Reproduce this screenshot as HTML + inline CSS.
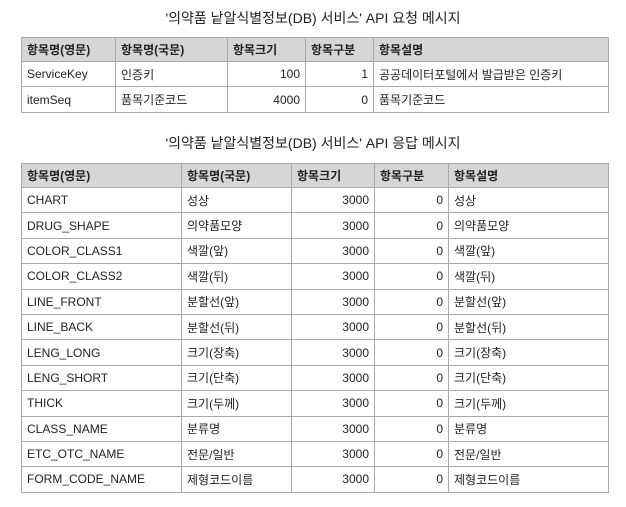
<!DOCTYPE html>
<html><head><meta charset="utf-8"><style>
body{margin:0;width:626px;height:507px;background:#fff;font-family:"Liberation Sans","Noto Sans CJK KR",sans-serif;color:#222;position:relative;overflow:hidden}
.title{position:absolute;left:0;width:626px;text-align:center;font-size:14px;line-height:18px}
table{position:absolute;left:21px;border-collapse:collapse;table-layout:fixed;font-size:12px}
td,th{border:1px solid #a9a9a9;padding:0 5px;white-space:nowrap;overflow:hidden}
th{background:#d6d6d6;text-align:left;font-weight:bold;height:23px}
td{height:24.4px}
td.n{text-align:right}
</style></head><body>
<div class="title" style="top:9px">'의약품 낱알식별정보(DB) 서비스' API 요청 메시지</div>
<table style="top:37px;width:587px">
<colgroup><col style="width:94px"><col style="width:112px"><col style="width:78px"><col style="width:68px"><col style="width:235px"></colgroup>
<tr><th>항목명(영문)</th><th>항목명(국문)</th><th>항목크기</th><th>항목구분</th><th>항목설명</th></tr>
<tr><td>ServiceKey</td><td>인증키</td><td class="n">100</td><td class="n">1</td><td>공공데이터포털에서 발급받은 인증키</td></tr>
<tr><td>itemSeq</td><td>품목기준코드</td><td class="n">4000</td><td class="n">0</td><td>품목기준코드</td></tr>
</table>
<div class="title" style="top:134px">'의약품 낱알식별정보(DB) 서비스' API 응답 메시지</div>
<table style="top:163px;width:587px">
<colgroup><col style="width:160px"><col style="width:110px"><col style="width:83px"><col style="width:74px"><col style="width:160px"></colgroup>
<tr><th>항목명(영문)</th><th>항목명(국문)</th><th>항목크기</th><th>항목구분</th><th>항목설명</th></tr>
<tr><td>CHART</td><td>성상</td><td class="n">3000</td><td class="n">0</td><td>성상</td></tr>
<tr><td>DRUG_SHAPE</td><td>의약품모양</td><td class="n">3000</td><td class="n">0</td><td>의약품모양</td></tr>
<tr><td>COLOR_CLASS1</td><td>색깔(앞)</td><td class="n">3000</td><td class="n">0</td><td>색깔(앞)</td></tr>
<tr><td>COLOR_CLASS2</td><td>색깔(뒤)</td><td class="n">3000</td><td class="n">0</td><td>색깔(뒤)</td></tr>
<tr><td>LINE_FRONT</td><td>분할선(앞)</td><td class="n">3000</td><td class="n">0</td><td>분할선(앞)</td></tr>
<tr><td>LINE_BACK</td><td>분할선(뒤)</td><td class="n">3000</td><td class="n">0</td><td>분할선(뒤)</td></tr>
<tr><td>LENG_LONG</td><td>크기(장축)</td><td class="n">3000</td><td class="n">0</td><td>크기(장축)</td></tr>
<tr><td>LENG_SHORT</td><td>크기(단축)</td><td class="n">3000</td><td class="n">0</td><td>크기(단축)</td></tr>
<tr><td>THICK</td><td>크기(두께)</td><td class="n">3000</td><td class="n">0</td><td>크기(두께)</td></tr>
<tr><td>CLASS_NAME</td><td>분류명</td><td class="n">3000</td><td class="n">0</td><td>분류명</td></tr>
<tr><td>ETC_OTC_NAME</td><td>전문/일반</td><td class="n">3000</td><td class="n">0</td><td>전문/일반</td></tr>
<tr><td>FORM_CODE_NAME</td><td>제형코드이름</td><td class="n">3000</td><td class="n">0</td><td>제형코드이름</td></tr>
</table>
</body></html>
